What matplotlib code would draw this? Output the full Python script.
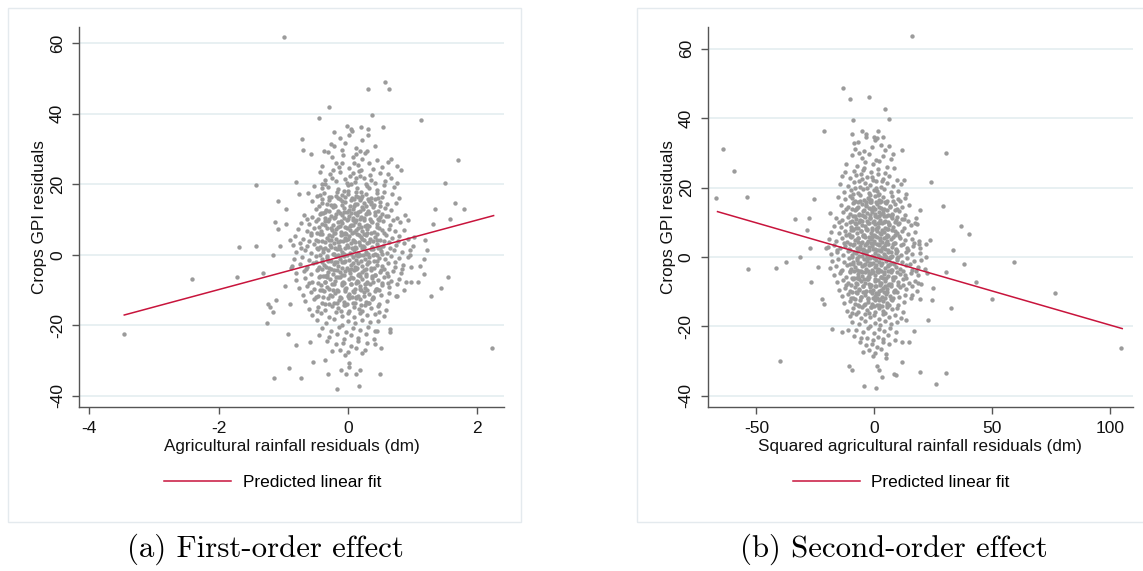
import matplotlib

matplotlib.use("Agg")
import matplotlib.pyplot as plt
import numpy as np
from matplotlib.lines import Line2D
from matplotlib.patches import Rectangle

plt.rcParams["font.family"] = ["Liberation Sans", "DejaVu Sans"]
plt.rcParams["axes.unicode_minus"] = False

# ---------------- panel (a): first-order effect ----------------
a_outer = [
    (-0.985, 61.8), (0.577, 49.1), (0.309, 46.9), (0.634, 46.9), (-0.299, 42.0),
    (-0.454, 38.8), (0.371, 39.6), (1.134, 38.1), (-0.015, 36.6), (0.206, 36.3),
    (0.309, 35.6), (0.541, 36.3), (0.062, 35.2), (-0.211, 34.7), (-0.711, 32.7),
    (-0.263, 31.4), (-0.701, 29.6), (-0.376, 29.3), (-0.572, 28.7), (1.701, 26.9),
    (0.665, 27.1), (0.825, 24.0), (0.758, 25.2), (-1.418, 19.7), (-0.804, 20.7),
    (1.495, 20.4), (0.758, 20.4), (-1.082, 15.3), (1.649, 14.8), (-0.763, 17.2),
    (-0.954, 12.9), (1.799, 12.9), (1.351, 12.9), (-1.134, 9.3), (1.582, 10.1),
    (1.309, 8.7), (-1.082, 7.2), (-0.954, 8.7), (-0.902, 4.2), (1.186, 4.3),
    (-1.680, 2.3), (-1.428, 2.6), (-1.057, 2.6), (-1.165, -0.2), (0.964, -0.2),
    (1.222, 1.3), (1.170, -1.3), (-2.412, -6.8), (-1.711, -6.2), (-1.314, -5.1),
    (1.546, -6.2), (1.170, -5.6), (1.433, -9.3), (1.289, -11.6), (1.082, -7.8),
    (-0.969, -8.9), (-1.237, -14.0), (-1.211, -14.8), (-1.165, -16.2), (-1.108, -12.9),
    (-0.892, -14.0), (-1.253, -19.5), (-0.933, -22.5), (-3.469, -22.5), (-0.804, -25.6),
    (2.227, -26.6), (-0.582, -24.7), (-0.541, -30.5), (-0.351, -29.9), (-0.918, -32.0),
    (-1.149, -34.9), (-0.722, -34.9), (-0.314, -33.9), (-0.108, -32.7), (-0.031, -33.9),
    (0.129, -33.9), (0.180, -32.7), (0.500, -33.7), (0.165, -37.2), (-0.170, -38.1),
    (0.010, -30.8), (0.010, -31.8), (0.655, -21.1), (0.655, -22.0), (0.423, -21.7),
    (0.515, -26.6), (0.423, -25.2), (0.268, -26.9), (0.742, -11.6), (0.474, -16.2),
    (0.979, -7.7), (1.02, 4.9), (1.11, -3.1), (0.93, 9.8), (-0.88, -3.9),
]

a_core = [
    (0.05, 35.8), (-0.12, 33.2), (0.22, 32.5), (0.31, 34.1), (-0.05, 31.6),
    (0.12, 30.4), (0.41, 30.9), (-0.22, 30.8), (0.18, 29.5), (0.02, 33.9),
    (-0.31, 29.1), (-0.08, 28.4), (0.07, 27.6), (0.26, 28.9), (0.45, 26.8),
    (-0.18, 26.1), (0.15, 25.4), (0.33, 25.9), (-0.41, 25.2), (0.02, 24.6),
    (0.52, 24.9), (-0.09, 29.7), (0.21, 27.1), (0.38, 24.3), (-0.25, 27.8),
    (0.09, 25.9), (0.61, 26.2), (-0.14, 24.8), (0.29, 29.4), (0.12, 28.7),
    (-0.44, 23.6), (-0.28, 22.9), (-0.12, 23.4), (0.03, 22.4), (0.17, 23.8),
    (0.34, 22.7), (0.49, 23.1), (0.66, 21.9), (-0.36, 21.2), (-0.19, 20.8),
    (-0.04, 21.5), (0.10, 20.6), (0.24, 21.7), (0.41, 20.4), (0.57, 20.9),
    (-0.52, 19.6), (-0.31, 19.1), (-0.15, 18.6), (0.00, 19.8), (0.14, 18.9),
    (0.29, 19.4), (0.45, 18.4), (0.71, 19.2), (-0.23, 23.9), (0.08, 23.1),
    (0.27, 20.1), (-0.07, 18.2), (0.36, 21.3), (0.55, 19.7), (-0.41, 18.8),
    (0.19, 22.2), (-0.02, 20.3), (0.12, 21.9), (0.62, 23.0), (-0.35, 20.0),
    (-0.62, 17.4), (-0.48, 16.8), (-0.37, 17.6), (-0.26, 16.3), (-0.17, 17.9),
    (-0.09, 16.9), (0.00, 17.2), (0.06, 16.1), (0.13, 17.7), (0.21, 16.6),
    (0.28, 17.3), (0.36, 16.0), (0.44, 17.5), (0.53, 16.4), (0.68, 17.1),
    (0.79, 16.2), (-0.55, 15.2), (-0.41, 14.6), (-0.30, 15.5), (-0.21, 14.2),
    (-0.13, 15.8), (-0.04, 14.9), (0.04, 15.4), (0.11, 14.4), (0.18, 15.6),
    (0.25, 14.7), (0.33, 15.3), (0.40, 14.1), (0.49, 15.0), (0.60, 14.5),
    (0.74, 14.8), (-0.50, 13.1), (-0.34, 12.7), (-0.24, 13.5), (-0.15, 12.4),
    (-0.07, 13.3), (0.02, 12.6), (0.09, 13.8), (0.16, 12.2), (0.23, 13.0),
    (0.31, 12.5), (0.38, 13.6), (0.47, 12.3), (0.57, 13.2), (0.66, 12.8),
    (-0.44, 17.0), (-0.10, 15.1), (0.07, 13.0), (0.15, 16.4), (0.27, 13.9),
    (-0.27, 14.0), (-0.02, 12.1), (0.35, 14.9), (0.20, 17.9), (-0.19, 16.7),
    (0.42, 15.7), (-0.36, 12.2), (0.12, 16.8), (0.55, 17.9),
    (-0.68, 11.2), (-0.55, 10.7), (-0.44, 11.5), (-0.35, 10.4), (-0.27, 11.1),
    (-0.20, 10.6), (-0.13, 11.7), (-0.06, 10.3), (0.01, 11.0), (0.07, 10.5),
    (0.14, 11.4), (0.20, 10.8), (0.27, 11.6), (0.34, 10.2), (0.42, 11.3),
    (0.50, 10.6), (0.61, 11.0), (0.75, 10.4), (0.88, 11.2),
    (-0.72, 9.1), (-0.60, 8.6), (-0.49, 9.5), (-0.40, 8.8), (-0.31, 9.7),
    (-0.23, 8.4), (-0.16, 9.3), (-0.09, 8.9), (-0.02, 9.8), (0.05, 8.5),
    (0.11, 9.4), (0.17, 8.7), (0.24, 9.9), (0.30, 8.3), (0.37, 9.2),
    (0.45, 8.8), (0.54, 9.6), (0.65, 8.5), (0.80, 9.3),
    (-0.78, 7.2), (-0.64, 6.8), (-0.52, 7.5), (-0.42, 6.6), (-0.33, 7.7),
    (-0.25, 6.9), (-0.18, 7.4), (-0.11, 6.5), (-0.04, 7.9), (0.03, 7.0),
    (0.09, 6.4), (0.15, 7.6), (0.22, 6.7), (0.29, 7.3), (0.36, 6.2),
    (0.44, 7.8), (0.52, 6.9), (0.63, 7.4), (0.72, 6.6), (0.86, 7.1),
    (-0.58, 6.3), (-0.29, 10.0), (-0.05, 6.1), (0.19, 10.1), (0.40, 6.4),
    (0.03, 8.1), (-0.15, 8.0), (0.26, 8.2), (0.10, 11.9), (-0.38, 11.9),
    (0.48, 9.9), (-0.48, 6.2), (0.58, 10.9), (0.33, 11.8), (-0.22, 6.3),
    (0.12, 6.9), (0.69, 9.9), (-0.09, 11.4), (-0.63, 10.0), (0.08, 9.9),
    (-0.82, 5.2), (-0.70, 4.6), (-0.58, 5.5), (-0.49, 4.3), (-0.40, 5.8),
    (-0.32, 4.8), (-0.25, 5.4), (-0.18, 4.4), (-0.11, 5.7), (-0.05, 4.7),
    (0.02, 5.3), (0.08, 4.2), (0.14, 5.9), (0.20, 4.9), (0.27, 5.5),
    (0.34, 4.5), (0.41, 5.1), (0.49, 4.1), (0.58, 5.6), (0.68, 4.8),
    (0.79, 5.2), (0.93, 4.6),
    (-0.85, 2.8), (-0.74, 3.4), (-0.63, 2.5), (-0.53, 3.1), (-0.44, 2.2),
    (-0.36, 3.6), (-0.28, 2.7), (-0.21, 3.3), (-0.14, 2.4), (-0.08, 3.8),
    (-0.01, 2.9), (0.05, 3.2), (0.11, 2.3), (0.17, 3.7), (0.23, 2.6),
    (0.30, 3.4), (0.37, 2.1), (0.45, 3.0), (0.54, 2.4), (0.63, 3.5),
    (0.74, 2.7), (0.86, 3.2), (1.00, 2.5),
    (-0.80, 0.9), (-0.67, 1.4), (-0.57, 0.5), (-0.47, 1.7), (-0.39, 0.7),
    (-0.31, 1.3), (-0.24, 0.3), (-0.17, 1.6), (-0.10, 0.8), (-0.04, 1.9),
    (0.03, 0.4), (0.09, 1.2), (0.15, 0.6), (0.21, 1.8), (0.28, 0.9),
    (0.35, 1.5), (0.42, 0.2), (0.51, 1.1), (0.60, 0.6), (0.71, 1.4),
    (0.83, 0.8), (0.96, 1.3),
    (-0.60, 4.0), (-0.35, 1.9), (-0.13, 4.0), (0.06, 2.0), (0.25, 4.1),
    (0.46, 1.8), (0.12, 0.0), (-0.27, 4.2), (0.39, 3.9), (-0.07, 0.1),
    (0.65, 2.0), (-0.46, 3.9), (0.18, 2.9), (0.00, 4.5), (-0.20, 2.0),
    (0.31, 0.1), (0.55, 3.9), (-0.72, 1.9), (0.77, 4.0), (-0.03, 5.9),
    (0.24, 5.8), (0.10, 3.5),
    (-0.83, -1.1), (-0.71, -0.6), (-0.60, -1.5), (-0.50, -0.4), (-0.41, -1.3),
    (-0.33, -0.8), (-0.26, -1.7), (-0.19, -0.5), (-0.12, -1.2), (-0.06, -0.3),
    (0.01, -1.6), (0.07, -0.7), (0.13, -1.4), (0.19, -0.2), (0.26, -1.1),
    (0.33, -0.6), (0.40, -1.8), (0.48, -0.9), (0.57, -1.3), (0.67, -0.4),
    (0.79, -1.0), (0.92, -0.7),
    (-0.86, -3.2), (-0.75, -2.7), (-0.64, -3.6), (-0.54, -2.4), (-0.45, -3.4),
    (-0.37, -2.8), (-0.29, -3.9), (-0.22, -2.5), (-0.15, -3.3), (-0.09, -2.2),
    (-0.02, -3.7), (0.04, -2.9), (0.10, -3.5), (0.16, -2.3), (0.22, -3.1),
    (0.29, -2.6), (0.36, -3.8), (0.44, -2.8), (0.53, -3.3), (0.62, -2.4),
    (0.73, -3.6), (0.85, -2.9), (0.98, -3.4),
    (-0.80, -5.3), (-0.68, -4.7), (-0.58, -5.6), (-0.48, -4.4), (-0.39, -5.9),
    (-0.31, -4.9), (-0.24, -5.5), (-0.17, -4.3), (-0.10, -5.7), (-0.04, -4.6),
    (0.03, -5.2), (0.09, -4.2), (0.15, -5.8), (0.21, -4.8), (0.28, -5.4),
    (0.35, -4.4), (0.42, -5.7), (0.50, -4.9), (0.60, -5.3), (0.70, -4.5),
    (0.82, -5.1),
    (-0.50, -2.0), (-0.27, -4.1), (-0.07, -2.0), (0.12, -4.1), (0.31, -2.0),
    (0.55, -4.0), (-0.16, -0.1), (0.05, -4.0), (0.23, -0.1), (-0.40, -4.0),
    (0.45, -0.2), (0.72, -2.0), (-0.65, -4.0), (0.18, -5.9), (-0.20, -2.1),
    (0.37, -5.9), (-0.01, -0.2), (0.61, -5.9), (-0.35, -5.9), (0.84, -4.1),
    (0.27, -4.0), (-0.12, -5.0),
    (-0.80, -7.2), (-0.66, -6.7), (-0.55, -7.6), (-0.45, -6.4), (-0.36, -7.8),
    (-0.28, -6.9), (-0.20, -7.4), (-0.13, -6.3), (-0.06, -7.9), (0.01, -7.0),
    (0.07, -6.5), (0.14, -7.5), (0.21, -6.8), (0.29, -7.7), (0.37, -6.6),
    (0.46, -7.3), (0.56, -6.4), (0.67, -7.5), (0.78, -6.9), (0.90, -7.8),
    (-0.76, -9.4), (-0.63, -8.8), (-0.52, -9.7), (-0.42, -8.5), (-0.33, -9.2),
    (-0.25, -8.3), (-0.17, -9.9), (-0.10, -8.7), (-0.03, -9.5), (0.04, -8.4),
    (0.11, -9.8), (0.18, -8.9), (0.26, -9.3), (0.34, -8.2), (0.43, -9.6),
    (0.53, -8.6), (0.64, -9.1), (0.76, -8.4),
    (-0.70, -11.3), (-0.57, -10.6), (-0.46, -11.7), (-0.37, -10.4), (-0.28, -11.5),
    (-0.20, -10.8), (-0.12, -11.9), (-0.05, -10.3), (0.02, -11.2), (0.09, -10.7),
    (0.16, -11.6), (0.24, -10.5), (0.32, -11.1), (0.41, -10.2), (0.51, -11.4),
    (0.63, -10.9), (0.75, -11.8),
    (-0.60, -8.1), (-0.24, -10.1), (0.06, -11.9), (0.30, -8.0), (-0.09, -8.0),
    (0.48, -10.0), (-0.40, -10.0), (0.20, -10.0), (-0.15, -6.2), (0.62, -7.9),
    (-0.50, -11.9), (0.12, -8.1), (0.39, -11.9), (-0.32, -6.2), (0.86, -9.9),
    (-0.66, -13.2), (-0.52, -12.6), (-0.41, -13.6), (-0.31, -12.4), (-0.22, -13.8),
    (-0.14, -12.9), (-0.06, -13.4), (0.02, -12.3), (0.10, -13.7), (0.18, -12.7),
    (0.27, -13.3), (0.37, -12.5), (0.48, -13.9), (0.60, -13.0),
    (-0.60, -15.4), (-0.46, -14.7), (-0.35, -15.8), (-0.25, -14.5), (-0.16, -15.2),
    (-0.07, -14.3), (0.01, -15.9), (0.09, -14.8), (0.17, -15.5), (0.26, -14.4),
    (0.36, -15.1), (0.47, -14.6), (0.58, -15.7),
    (-0.55, -17.1), (-0.42, -16.5), (-0.30, -17.6), (-0.19, -16.3), (-0.09, -17.3),
    (0.00, -16.6), (0.09, -17.8), (0.19, -16.4), (0.30, -17.2), (0.42, -16.8),
    (0.55, -17.5),
    (-0.36, -13.9), (-0.02, -14.1), (0.22, -16.0), (-0.11, -16.1), (0.32, -13.8),
    (-0.48, -16.0), (0.13, -12.1),
    (-0.48, -18.6), (-0.34, -19.4), (-0.21, -18.3), (-0.10, -19.8), (0.00, -18.9),
    (0.11, -19.5), (0.22, -18.5), (0.34, -19.2), (0.47, -18.8), (-0.40, -20.9),
    (-0.26, -21.6), (-0.14, -20.5), (-0.03, -21.9), (0.08, -20.7), (0.19, -21.3),
    (0.31, -20.4), (0.44, -21.7), (-0.30, -23.2), (-0.17, -22.6), (-0.06, -23.8),
    (0.05, -22.9), (0.16, -23.5), (0.28, -22.4), (0.40, -23.9), (-0.45, -22.8),
    (-0.33, -24.6), (-0.19, -25.3), (-0.08, -24.9), (0.04, -25.8), (0.16, -24.5),
    (0.29, -25.1), (-0.12, -26.9), (0.00, -27.6), (0.12, -26.5), (-0.25, -27.3),
    (-0.04, -28.4), (0.22, -27.9),
]

# densest middle of the cloud
a_dense = [
    (-0.25, 21.9), (0.05, 20.0), (0.20, 24.0), (0.33, 19.0), (-0.10, 25.9),
    (0.00, 18.0), (-0.40, 20.0),
    (-0.40, 15.9), (-0.29, 16.3), (-0.15, 16.0), (-0.05, 16.4), (0.09, 15.8),
    (0.20, 16.2), (0.31, 15.7), (0.46, 16.1),
    (-0.45, 13.9), (-0.33, 14.3), (-0.20, 13.7), (-0.09, 14.2), (0.03, 13.8),
    (0.14, 14.3), (0.22, 13.6), (0.36, 14.4), (0.50, 13.9),
    (-0.42, 11.9), (-0.30, 12.3), (-0.18, 11.6), (-0.06, 12.2), (0.05, 11.8),
    (0.18, 12.3), (0.29, 11.7), (0.41, 12.1), (0.52, 11.6),
    (-0.47, 10.1), (-0.36, 9.6), (-0.22, 10.3), (-0.11, 9.7), (0.00, 10.2),
    (0.13, 9.8), (0.25, 10.4), (0.35, 9.6), (0.46, 10.2),
    (-0.45, 7.9), (-0.35, 8.3), (-0.26, 7.6), (-0.12, 8.2), (-0.01, 7.7),
    (0.08, 8.4), (0.20, 7.8), (0.33, 8.2), (0.48, 7.6),
    (-0.43, 6.0), (-0.30, 5.6), (-0.20, 6.2), (-0.08, 5.8), (0.06, 6.1),
    (0.17, 5.6), (0.30, 6.3), (0.44, 5.8), (0.55, 6.1),
    (-0.40, 3.9), (-0.30, 4.3), (-0.16, 3.6), (-0.03, 4.1), (0.09, 3.8),
    (0.21, 4.4), (0.33, 3.7), (0.45, 4.2),
    (-0.48, 2.0), (-0.39, 1.6), (-0.27, 2.3), (-0.12, 1.7), (0.00, 2.2),
    (0.13, 1.9), (0.25, 2.2), (0.38, 1.6), (0.50, 2.0),
    (-0.44, 0.0), (-0.32, -0.3), (-0.21, 0.2), (-0.09, -0.2), (0.04, 0.1),
    (0.16, -0.3), (0.27, 0.2), (0.39, -0.1), (0.53, 0.1),
    (-0.41, -2.1), (-0.31, -1.7), (-0.17, -2.2), (-0.04, -1.8), (0.08, -2.3),
    (0.20, -1.7), (0.33, -2.2), (0.45, -1.9),
    (-0.47, -4.0), (-0.34, -3.6), (-0.22, -4.3), (-0.10, -3.9), (0.01, -4.4),
    (0.14, -3.7), (0.25, -4.2), (0.40, -3.8), (0.51, -4.3),
    (-0.43, -6.1), (-0.32, -5.7), (-0.19, -6.3), (-0.07, -5.8), (0.05, -6.2),
    (0.17, -5.6), (0.28, -6.1), (0.42, -5.8),
    (-0.46, -8.0), (-0.35, -7.6), (-0.21, -8.2), (-0.08, -7.7), (0.04, -8.3),
    (0.16, -7.6), (0.26, -8.2), (0.39, -7.8), (0.52, -8.1),
    (-0.43, -10.0), (-0.30, -9.6), (-0.16, -10.2), (-0.05, -9.7), (0.07, -10.3),
    (0.18, -9.6), (0.30, -10.1), (0.44, -9.8),
    (-0.38, -12.0), (-0.25, -11.6), (-0.11, -12.2), (0.00, -11.7), (0.12, -12.3),
    (0.25, -11.8), (0.38, -12.2),
    (-0.30, -14.0), (-0.17, -13.6), (-0.04, -14.3), (0.08, -13.8), (0.20, -14.2),
    (0.31, -13.7),
]

fit_a_x = [-3.46, 2.25]
fit_a_y = [-17.1, 11.1]

# ---------------- panel (b): second-order effect ----------------
b_outer = [
    (15.8, 63.6), (-13.3, 48.7), (-10.4, 45.6), (-2.4, 46.0), (4.6, 42.6),
    (6.3, 39.8), (-9.2, 39.5), (-21.5, 36.4), (-5.4, 36.3), (1.7, 36.3),
    (-9.5, 35.4), (-3.6, 34.7), (-0.2, 34.5), (3.5, 34.7), (-8.7, 33.0),
    (-64.1, 31.2), (11.7, 30.9), (30.6, 29.9), (7.9, 29.6), (-59.6, 24.9),
    (24.0, 21.7), (12.8, 22.2), (-67.0, 16.9), (-54.2, 17.2), (-25.4, 16.8),
    (13.3, 18.2), (29.1, 14.7), (-33.8, 11.0), (-27.8, 11.2), (-28.6, 7.8),
    (36.7, 9.1), (40.4, 6.6), (33.5, 2.0), (-31.3, 0.1), (-27.3, 2.5),
    (-37.3, -1.5), (-41.5, -3.1), (-53.6, -3.5), (38.2, -2.0), (59.1, -1.3),
    (30.6, -4.2), (43.0, -7.3), (-26.7, -7.2), (76.8, -10.3), (49.9, -12.1),
    (32.5, -14.8), (24.6, -12.4), (104.6, -26.3), (-40.1, -29.9), (30.6, -33.4),
    (26.4, -36.7), (-4.4, -37.1), (0.9, -37.7), (19.3, -33.1), (-10.7, -31.4),
    (-9.3, -32.6), (1.1, -31.4), (2.2, -32.4), (3.2, -34.5), (8.2, -33.8),
    (9.3, -34.0), (11.7, -30.2), (5.1, -29.0), (22.7, -18.2), (16.7, -21.3),
    (14.8, -24.6), (11.7, -24.4), (-17.9, -20.6), (-13.6, -21.7), (-11.1, -21.1),
    (-21.3, -13.6), (-22.1, -12.1), (22.0, 3.9), (23.5, 4.9), (18.9, 3.9),
    (18.0, 9.5), (17.2, 9.7), (19.6, 13.5), (22.0, 0.1), (22.4, -4.7),
    (18.5, -7.6), (19.3, -12.2), (15.8, -11.0), (13.6, -18.2), (-20.4, 2.6),
    (-23.8, -2.9), (24.8, -8.9), (-18.6, 12.8),
]

b_core = [
    (-3.5, 35.6), (1.2, 34.2), (-6.8, 33.1), (2.8, 32.4), (-1.1, 31.7),
    (4.5, 30.9), (-4.2, 30.5), (0.3, 33.8), (-8.1, 31.2), (6.2, 31.9),
    (-9.4, 29.3), (-5.1, 28.6), (-2.3, 29.7), (0.8, 28.1), (3.6, 29.0),
    (6.9, 28.4), (-11.8, 26.9), (-7.2, 26.3), (-3.9, 27.4), (-0.6, 26.7),
    (2.1, 27.8), (5.3, 26.1), (8.4, 25.8), (-12.5, 24.6), (-8.6, 24.9),
    (-4.8, 25.2), (-1.5, 24.4), (1.7, 25.5), (4.4, 24.3), (-6.3, 29.9),
    (-13.8, 23.5), (-10.4, 22.8), (-7.6, 23.7), (-5.2, 22.5), (-2.9, 23.2),
    (-0.7, 22.1), (1.5, 23.9), (3.8, 22.6), (6.4, 23.4), (9.6, 22.3),
    (-14.6, 21.1), (-11.2, 20.5), (-8.5, 21.6), (-6.1, 20.3), (-3.8, 21.4),
    (-1.6, 20.7), (0.6, 21.8), (2.9, 20.2), (5.2, 21.3), (8.1, 20.6),
    (11.5, 21.0), (-12.9, 18.9), (-9.7, 19.4), (-7.0, 18.4), (-4.6, 19.7),
    (-2.4, 18.6), (-0.2, 19.3), (2.0, 18.2), (4.3, 19.6), (7.0, 18.8),
    (10.2, 19.1), (-5.5, 23.9), (0.9, 20.0), (-9.0, 18.1), (3.2, 21.9),
    (-15.2, 17.3), (-12.4, 16.7), (-10.1, 17.6), (-8.0, 16.2), (-6.2, 17.8),
    (-4.5, 16.5), (-2.8, 17.1), (-1.2, 16.0), (0.4, 17.5), (2.0, 16.4),
    (3.7, 17.2), (5.5, 16.1), (7.6, 17.7), (10.0, 16.6), (13.1, 17.0),
    (-14.0, 15.1), (-11.3, 14.5), (-9.1, 15.6), (-7.2, 14.2), (-5.4, 15.3),
    (-3.7, 14.7), (-2.0, 15.9), (-0.4, 14.4), (1.2, 15.2), (2.8, 14.1),
    (4.6, 15.8), (6.5, 14.6), (8.8, 15.4), (11.6, 14.3), (14.9, 15.0),
    (-13.1, 13.0), (-10.4, 12.4), (-8.3, 13.5), (-6.4, 12.2), (-4.6, 13.3),
    (-2.9, 12.6), (-1.2, 13.8), (0.4, 12.3), (2.0, 13.1), (3.7, 12.7),
    (5.6, 13.6), (7.7, 12.5), (10.3, 13.2), (13.0, 12.1),
    (-9.6, 16.9), (-3.3, 15.0), (1.6, 17.9), (-0.9, 12.9), (4.1, 14.0),
    (-6.8, 16.0), (6.0, 12.0), (-11.9, 13.9), (8.9, 13.7), (-2.1, 16.8),
    (0.0, 14.0), (-5.0, 12.1), (2.6, 15.9), (11.1, 16.2), (-7.7, 13.9),
    (-16.1, 11.3), (-13.5, 10.6), (-11.2, 11.6), (-9.3, 10.3), (-7.6, 11.1),
    (-6.0, 10.7), (-4.5, 11.8), (-3.0, 10.4), (-1.6, 11.2), (-0.2, 10.5),
    (1.2, 11.5), (2.6, 10.8), (4.1, 11.7), (5.7, 10.2), (7.4, 11.4),
    (9.3, 10.6), (11.6, 11.0), (14.4, 10.4), (17.5, 11.2),
    (-17.0, 9.1), (-14.2, 8.6), (-11.9, 9.5), (-10.0, 8.8), (-8.3, 9.7),
    (-6.7, 8.4), (-5.2, 9.3), (-3.8, 8.9), (-2.4, 9.8), (-1.0, 8.5),
    (0.3, 9.4), (1.7, 8.7), (3.1, 9.9), (4.6, 8.3), (6.2, 9.2),
    (8.0, 8.8), (10.1, 9.6), (12.6, 8.5), (15.5, 9.3),
    (-18.2, 7.2), (-15.0, 6.8), (-12.6, 7.5), (-10.6, 6.6), (-8.9, 7.7),
    (-7.3, 6.9), (-5.8, 7.4), (-4.3, 6.5), (-2.9, 7.9), (-1.5, 7.0),
    (-0.1, 6.4), (1.3, 7.6), (2.7, 6.7), (4.2, 7.3), (5.8, 6.2),
    (7.6, 7.8), (9.6, 6.9), (11.9, 7.4), (14.3, 6.6), (17.2, 7.1),
    (-12.0, 6.3), (-6.5, 10.0), (-1.1, 6.1), (4.0, 10.1), (8.8, 6.4),
    (0.6, 8.1), (-3.3, 8.0), (5.4, 8.2), (2.1, 11.9), (-8.0, 11.9),
    (10.6, 9.9), (-10.1, 6.2), (12.7, 10.9), (7.0, 11.8), (-4.8, 6.3),
    (2.4, 6.9), (-1.9, 11.4), (-14.8, 10.0), (1.5, 9.9), (-9.0, 8.0),
    (-19.0, 5.2), (-16.2, 4.6), (-13.7, 5.5), (-11.6, 4.3), (-9.8, 5.8),
    (-8.2, 4.8), (-6.7, 5.4), (-5.3, 4.4), (-3.9, 5.7), (-2.6, 4.7),
    (-1.3, 5.3), (0.0, 4.2), (1.3, 5.9), (2.6, 4.9), (4.0, 5.5),
    (5.5, 4.5), (7.1, 5.1), (8.9, 4.1), (10.9, 5.6), (13.2, 4.8),
    (15.8, 5.2), (18.9, 4.6),
    (-19.8, 2.8), (-17.0, 3.4), (-14.6, 2.5), (-12.5, 3.1), (-10.7, 2.2),
    (-9.0, 3.6), (-7.5, 2.7), (-6.1, 3.3), (-4.7, 2.4), (-3.4, 3.8),
    (-2.1, 2.9), (-0.8, 3.2), (0.5, 2.3), (1.8, 3.7), (3.1, 2.6),
    (4.5, 3.4), (6.0, 2.1), (7.6, 3.0), (9.4, 2.4), (11.4, 3.5),
    (13.7, 2.7), (16.4, 3.2), (19.6, 2.5),
    (-18.5, 0.9), (-15.6, 1.4), (-13.2, 0.5), (-11.2, 1.7), (-9.4, 0.7),
    (-7.8, 1.3), (-6.3, 0.3), (-4.9, 1.6), (-3.6, 0.8), (-2.3, 1.9),
    (-1.0, 0.4), (0.3, 1.2), (1.6, 0.6), (2.9, 1.8), (4.3, 0.9),
    (5.8, 1.5), (7.4, 0.2), (9.2, 1.1), (11.2, 0.6), (13.5, 1.4),
    (16.2, 0.8), (19.3, 1.3),
    (-13.0, 4.0), (-7.0, 1.9), (-2.9, 4.0), (1.0, 2.0), (5.0, 4.1),
    (9.8, 1.8), (2.4, 0.0), (-5.6, 4.2), (8.0, 3.9), (-1.6, 0.1),
    (14.2, 2.0), (-10.3, 3.9), (3.7, 2.9), (-0.3, 4.5), (-4.2, 2.0),
    (6.5, 0.1), (12.0, 3.9), (-16.0, 1.9), (16.8, 4.0), (-0.9, 5.9),
    (4.9, 5.8), (2.0, 3.5),
    (-18.0, -1.1), (-15.2, -0.6), (-12.8, -1.5), (-10.8, -0.4), (-9.0, -1.3),
    (-7.4, -0.8), (-5.9, -1.7), (-4.5, -0.5), (-3.1, -1.2), (-1.8, -0.3),
    (-0.5, -1.6), (0.8, -0.7), (2.1, -1.4), (3.4, -0.2), (4.8, -1.1),
    (6.3, -0.6), (7.9, -1.8), (9.7, -0.9), (11.7, -1.3), (14.0, -0.4),
    (16.7, -1.0), (19.8, -0.7),
    (-18.9, -3.2), (-16.1, -2.7), (-13.6, -3.6), (-11.5, -2.4), (-9.7, -3.4),
    (-8.0, -2.8), (-6.5, -3.9), (-5.0, -2.5), (-3.6, -3.3), (-2.3, -2.2),
    (-0.9, -3.7), (0.4, -2.9), (1.7, -3.5), (3.0, -2.3), (4.4, -3.1),
    (5.9, -2.6), (7.5, -3.8), (9.2, -2.8), (11.1, -3.3), (13.3, -2.4),
    (15.8, -3.6), (18.6, -2.9), (21.5, -3.4),
    (-17.2, -5.3), (-14.5, -4.7), (-12.2, -5.6), (-10.2, -4.4), (-8.4, -5.9),
    (-6.8, -4.9), (-5.3, -5.5), (-3.9, -4.3), (-2.5, -5.7), (-1.2, -4.6),
    (0.1, -5.2), (1.4, -4.2), (2.8, -5.8), (4.2, -4.8), (5.7, -5.4),
    (7.3, -4.4), (9.0, -5.7), (11.0, -4.9), (13.2, -5.3), (15.7, -4.5),
    (18.5, -5.1),
    (-10.5, -2.0), (-5.8, -4.1), (-1.4, -2.0), (2.7, -4.1), (6.8, -2.0),
    (12.0, -4.0), (-3.2, -0.1), (1.1, -4.0), (5.0, -0.1), (-8.7, -4.0),
    (9.6, -0.2), (15.0, -2.0), (-14.0, -4.0), (3.9, -5.9), (-4.1, -2.1),
    (8.1, -5.9), (-0.2, -0.2), (13.4, -5.9), (-7.4, -5.9), (17.6, -4.1),
    (5.9, -4.0), (-2.3, -5.0),
    (-16.0, -7.2), (-13.2, -6.7), (-11.0, -7.6), (-9.0, -6.4), (-7.2, -7.8),
    (-5.6, -6.9), (-4.1, -7.4), (-2.7, -6.3), (-1.3, -7.9), (0.1, -7.0),
    (1.5, -6.5), (3.0, -7.5), (4.5, -6.8), (6.2, -7.7), (8.0, -6.6),
    (10.0, -7.3), (12.2, -6.4), (14.7, -7.5), (17.3, -6.9), (20.0, -7.8),
    (-15.0, -9.4), (-12.3, -8.8), (-10.1, -9.7), (-8.2, -8.5), (-6.5, -9.2),
    (-4.9, -8.3), (-3.4, -9.9), (-2.0, -8.7), (-0.6, -9.5), (0.8, -8.4),
    (2.2, -9.8), (3.7, -8.9), (5.3, -9.3), (7.0, -8.2), (8.9, -9.6),
    (11.0, -8.6), (13.4, -9.1), (16.2, -8.4),
    (-13.6, -11.3), (-11.1, -10.6), (-9.0, -11.7), (-7.2, -10.4), (-5.5, -11.5),
    (-4.0, -10.8), (-2.5, -11.9), (-1.1, -10.3), (0.3, -11.2), (1.7, -10.7),
    (3.2, -11.6), (4.8, -10.5), (6.5, -11.1), (8.4, -10.2), (10.5, -11.4),
    (12.9, -10.9), (15.6, -11.8),
    (-11.8, -8.1), (-4.6, -10.1), (1.2, -11.9), (6.0, -8.0), (-1.7, -8.0),
    (9.6, -10.0), (-7.8, -10.0), (4.0, -10.0), (-2.9, -6.2), (12.4, -7.9),
    (-10.0, -11.9), (2.5, -8.1), (7.8, -11.9), (-6.4, -6.2), (18.3, -9.9),
    (-12.7, -13.2), (-10.2, -12.6), (-8.1, -13.6), (-6.2, -12.4), (-4.4, -13.8),
    (-2.7, -12.9), (-1.1, -13.4), (0.5, -12.3), (2.1, -13.7), (3.8, -12.7),
    (5.6, -13.3), (7.6, -12.5), (9.9, -13.9), (12.5, -13.0),
    (-11.5, -15.4), (-9.0, -14.7), (-6.9, -15.8), (-5.0, -14.5), (-3.2, -15.2),
    (-1.5, -14.3), (0.2, -15.9), (1.9, -14.8), (3.6, -15.5), (5.4, -14.4),
    (7.4, -15.1), (9.7, -14.6), (12.3, -15.7),
    (-10.3, -17.1), (-7.9, -16.5), (-5.8, -17.6), (-3.8, -16.3), (-1.9, -17.3),
    (0.0, -16.6), (1.9, -17.8), (3.9, -16.4), (6.1, -17.2), (8.6, -16.8),
    (11.4, -17.5),
    (-6.9, -13.9), (-0.3, -14.1), (4.4, -16.0), (-2.2, -16.1), (6.4, -13.8),
    (-9.4, -16.0), (2.6, -12.1),
    (-9.5, -18.6), (-6.6, -19.4), (-4.0, -18.3), (-1.8, -19.8), (0.2, -18.9),
    (2.3, -19.5), (4.5, -18.5), (6.9, -19.2), (9.6, -18.8), (-7.6, -20.9),
    (-4.9, -21.6), (-2.5, -20.5), (-0.3, -21.9), (1.9, -20.7), (4.1, -21.3),
    (6.5, -20.4), (9.2, -21.7), (-5.5, -23.2), (-2.9, -23.2), (-0.7, -23.8),
    (1.4, -22.9), (3.6, -23.5), (6.0, -22.4), (8.6, -23.9), (-8.7, -22.8),
    (-6.0, -24.6), (-3.3, -25.3), (-1.0, -24.9), (1.3, -25.8), (3.7, -24.5),
    (6.4, -25.1), (-2.1, -26.9), (0.4, -27.6), (2.9, -26.5), (-4.6, -27.3),
    (-0.5, -28.4), (4.8, -27.9),
]

b_dense = [
    (-6.4, 21.9), (-3.2, 20.0), (-1.0, 23.0), (1.1, 19.0), (-4.5, 25.8),
    (-2.0, 18.0), (-8.0, 20.0),
    (-8.4, 15.9), (-6.0, 16.3), (-3.6, 16.0), (-1.5, 16.4), (0.6, 15.8),
    (2.8, 16.2), (5.0, 15.7), (7.8, 16.1),
    (-9.5, 13.9), (-6.8, 14.3), (-4.2, 13.7), (-2.1, 14.2), (0.2, 13.8),
    (2.2, 14.3), (3.9, 13.6), (6.7, 14.4), (9.5, 13.9),
    (-9.0, 11.9), (-6.5, 12.3), (-4.0, 11.6), (-1.7, 12.2), (0.5, 11.8),
    (3.0, 12.3), (5.1, 11.7), (7.4, 12.1), (9.8, 11.6),
    (-10.2, 10.1), (-7.9, 9.6), (-5.0, 10.3), (-2.8, 9.7), (-0.6, 10.2),
    (1.9, 9.8), (4.4, 10.4), (6.4, 9.6), (8.6, 10.2),
    (-9.8, 7.9), (-7.7, 8.3), (-5.8, 7.6), (-3.0, 8.2), (-0.8, 7.7),
    (1.0, 8.4), (3.4, 7.8), (6.0, 8.2), (9.0, 7.6),
    (-9.4, 6.0), (-6.8, 5.6), (-4.7, 6.2), (-2.3, 5.8), (0.4, 6.1),
    (2.6, 5.6), (5.2, 6.3), (8.0, 5.8), (10.3, 6.1),
    (-8.7, 3.9), (-6.7, 4.3), (-3.9, 3.6), (-1.3, 4.1), (1.1, 3.8),
    (3.4, 4.4), (5.9, 3.7), (8.3, 4.2),
    (-10.4, 2.0), (-8.6, 1.6), (-6.2, 2.3), (-3.1, 1.7), (-0.6, 2.2),
    (2.0, 1.9), (4.4, 2.2), (7.0, 1.6), (9.4, 2.0),
    (-9.6, 0.0), (-7.2, -0.3), (-5.0, 0.2), (-2.6, -0.2), (0.0, 0.1),
    (2.5, -0.3), (4.7, 0.2), (7.1, -0.1), (9.9, 0.1),
    (-9.0, -2.1), (-7.0, -1.7), (-4.2, -2.2), (-1.6, -1.8), (0.9, -2.3),
    (3.3, -1.7), (5.9, -2.2), (8.3, -1.9),
    (-10.1, -4.0), (-7.5, -3.6), (-5.1, -4.3), (-2.7, -3.9), (-0.5, -4.4),
    (2.1, -3.7), (4.3, -4.2), (7.3, -3.8), (9.5, -4.3),
    (-9.3, -6.1), (-7.1, -5.7), (-4.5, -6.3), (-2.1, -5.8), (0.4, -6.2),
    (2.8, -5.6), (5.0, -6.1), (7.8, -5.8),
    (-9.9, -8.0), (-7.7, -7.6), (-4.9, -8.2), (-2.3, -7.7), (0.2, -8.3),
    (2.6, -7.6), (4.7, -8.2), (7.3, -7.8), (9.9, -8.1),
    (-9.3, -10.0), (-6.6, -9.6), (-3.8, -10.2), (-1.6, -9.7), (0.8, -10.3),
    (3.0, -9.6), (5.4, -10.1), (8.2, -9.8),
    (-8.3, -12.0), (-5.6, -11.6), (-2.8, -12.2), (-0.6, -11.7), (1.8, -12.3),
    (4.4, -11.8), (7.0, -12.2),
    (-6.6, -14.0), (-4.0, -13.6), (-1.4, -14.3), (1.0, -13.8), (3.4, -14.2),
    (5.6, -13.7),
]

fit_b_x = [-66.5, 105.2]
fit_b_y = [13.1, -20.6]

yticks = [-40, -20, 0, 20, 40, 60]
xticks_a = [-4, -2, 0, 2]
xticks_b = [-50, 0, 50, 100]

DOT = "#9b9b9b"
FIT = "#c8143c"
AXC = "#555555"
GRID = "#e8f0f2"


def style_axes(ax, xlabel):
    for side in ("top", "right"):
        ax.spines[side].set_visible(False)
    for side in ("left", "bottom"):
        ax.spines[side].set_color(AXC)
        ax.spines[side].set_linewidth(1.0)
    ax.set_yticks(yticks)
    ax.yaxis.grid(True, color=GRID, linewidth=1.4)
    ax.set_axisbelow(True)
    ax.tick_params(direction="out", length=5, width=1.0, color=AXC,
                   labelsize=12.5, labelcolor="#111111", pad=5)
    ax.tick_params(axis="y", labelrotation=90)
    for lab in ax.get_yticklabels():
        lab.set_va("center")
    ax.set_xlabel(xlabel, fontsize=12.3, color="#111111", labelpad=2)
    ax.set_ylabel("Crops GPI residuals", fontsize=12.3, color="#111111", labelpad=2)


def panel(ax, outer, core, dense, fx, fy, xlim, ylim, xticks, xlabel):
    pts = np.array(core + dense + outer)
    ax.scatter(pts[:, 0], pts[:, 1], s=10, color=DOT, linewidths=0, zorder=2)
    ax.plot(fx, fy, color=FIT, linewidth=1.1, zorder=3)
    ax.set_xlim(*xlim)
    ax.set_ylim(*ylim)
    ax.set_xticks(xticks)
    style_axes(ax, xlabel)


fig = plt.figure(figsize=(11.43, 5.71), dpi=100)
fig.patch.set_facecolor("white")

# light panel frames
fig.add_artist(Rectangle((8 / 1143, 49 / 571), 513 / 1143, 514 / 571,
                         transform=fig.transFigure, facecolor="none",
                         edgecolor="#e4eaee", linewidth=1.0))
fig.add_artist(Rectangle((637 / 1143, 49 / 571), 520 / 1143, 514 / 571,
                         transform=fig.transFigure, facecolor="none",
                         edgecolor="#e4eaee", linewidth=1.0))

ax1 = fig.add_axes([0.0691, 0.2872, 0.3718, 0.6655])
panel(ax1, a_outer, a_core, a_dense, fit_a_x, fit_a_y, (-4.16, 2.41), (-43.2, 64.6),
      xticks_a, "Agricultural rainfall residuals (dm)")

ax2 = fig.add_axes([0.6191, 0.2872, 0.3722, 0.6655])
panel(ax2, b_outer, b_core, b_dense, fit_b_x, fit_b_y, (-70.7, 109.8), (-43.2, 66.3),
      xticks_b, "Squared agricultural rainfall residuals (dm)")

handle = [Line2D([], [], color=FIT, linewidth=1.1)]
for cx in (272.7 / 1143, 901.5 / 1143):
    fig.legend(handle, ["Predicted linear fit"], loc="center",
               bbox_to_anchor=(cx, 89 / 571), frameon=False, fontsize=12.4,
               handlelength=3.9, handletextpad=0.65)

fig.text(265.5 / 1143, 22 / 571, "(a) First-order effect", family="cmr10",
         fontsize=22.2, ha="center", va="center")
fig.text(894 / 1143, 22 / 571, "(b) Second-order effect", family="cmr10",
         fontsize=22.2, ha="center", va="center")

fig.savefig("out.png", dpi=100)
